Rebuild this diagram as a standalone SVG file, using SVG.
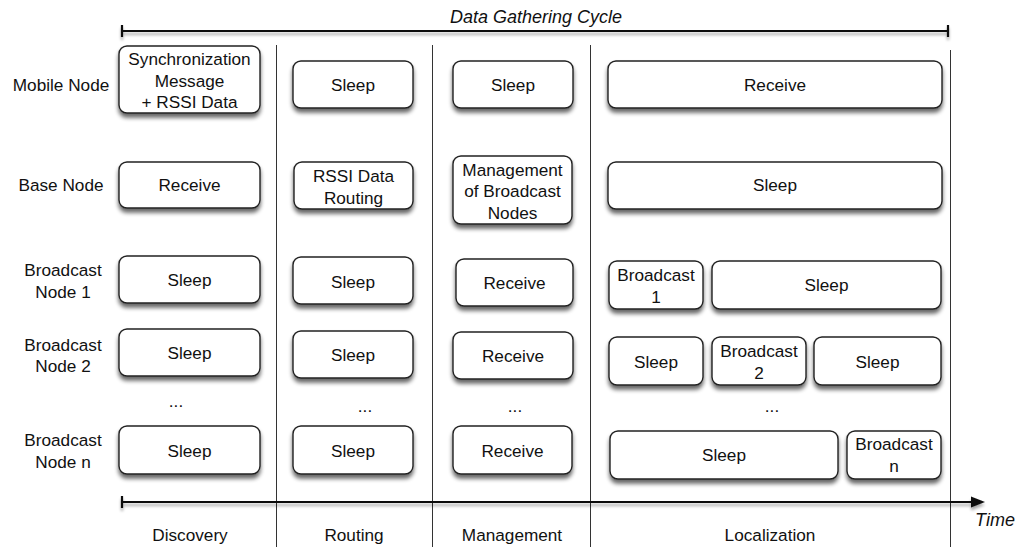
<svg xmlns="http://www.w3.org/2000/svg" width="1018" height="547" viewBox="0 0 1018 547">
  <defs>
    <filter id="shadow" x="-10%" y="-20%" width="120%" height="160%">
      <feGaussianBlur in="SourceAlpha" stdDeviation="2.2"/>
      <feOffset dx="0" dy="4" result="blur"/>
      <feComponentTransfer><feFuncA type="linear" slope="0.6"/></feComponentTransfer>
      <feMerge><feMergeNode/><feMergeNode in="SourceGraphic"/></feMerge>
    </filter>
    <filter id="lineShadow" x="-5%" y="-200%" width="110%" height="500%">
      <feGaussianBlur in="SourceAlpha" stdDeviation="1.5"/>
      <feOffset dx="0" dy="3"/>
      <feComponentTransfer><feFuncA type="linear" slope="0.35"/></feComponentTransfer>
      <feMerge><feMergeNode/><feMergeNode in="SourceGraphic"/></feMerge>
    </filter>
    <marker id="arrow" markerWidth="14" markerHeight="12" refX="2" refY="6" orient="auto" markerUnits="userSpaceOnUse">
      <path d="M0,0.5 L14,6 L0,11.5 Z" fill="#111"/>
    </marker>
  </defs>
  <style>
    .box { fill: #fff; stroke: #222; stroke-width: 1.4; filter: url(#shadow); }
    .t { font-family: "Liberation Sans", Arial, sans-serif; font-size: 17.2px; fill: #111; text-anchor: middle; }
    .it { font-style: italic; font-size: 18px; }
    .sep { stroke: #333; stroke-width: 1; }
    .axis { stroke: #111; stroke-width: 2.2; fill: none; }
  </style>
  <rect width="1018" height="547" fill="#fff"/>

  <!-- phase separators -->
  <g id="separators">
    <line class="sep" x1="276.5" y1="45" x2="276.5" y2="547"/>
    <line class="sep" x1="432.5" y1="45" x2="432.5" y2="547"/>
    <line class="sep" x1="590.5" y1="45" x2="590.5" y2="547"/>
    <line class="sep" x1="950.5" y1="50" x2="950.5" y2="547"/>
  </g>

  <!-- cycle bar and time axis -->
  <g id="connectors">
    <g filter="url(#lineShadow)">
      <line class="axis" x1="122" y1="31" x2="948" y2="31"/>
      <line class="axis" x1="122" y1="25" x2="122" y2="37"/>
      <line class="axis" x1="948" y1="25" x2="948" y2="37"/>
    </g>
    <g filter="url(#lineShadow)">
      <line class="axis" x1="122" y1="502" x2="973" y2="502" marker-end="url(#arrow)"/>
      <line class="axis" x1="122" y1="496" x2="122" y2="508"/>
    </g>
  </g>

  <text class="t it" x="536" y="23">Data Gathering Cycle</text>
  <text class="t it" x="995" y="526">Time</text>

  <!-- row labels -->
  <g id="labels">
    <text class="t" x="61" y="91">Mobile Node</text>
    <text class="t" x="61" y="191">Base Node</text>
    <text class="t" x="63" y="276">Broadcast</text>
    <text class="t" x="63" y="298">Node 1</text>
    <text class="t" x="63" y="351">Broadcast</text>
    <text class="t" x="63" y="372">Node 2</text>
    <text class="t" x="63" y="446">Broadcast</text>
    <text class="t" x="63" y="468">Node n</text>
  </g>

  <!-- phase labels -->
  <g id="phases">
    <text class="t" x="190" y="541">Discovery</text>
    <text class="t" x="354" y="541">Routing</text>
    <text class="t" x="512" y="541">Management</text>
    <text class="t" x="770" y="541">Localization</text>
  </g>

  <!-- ellipsis row -->
  <g id="ellipsis">
    <text class="t" x="176" y="407">...</text>
    <text class="t" x="365" y="412">...</text>
    <text class="t" x="515" y="412">...</text>
    <text class="t" x="772" y="412">...</text>
  </g>

  <!-- Mobile Node row -->
  <g id="mobile-discovery">
    <rect class="box" x="119" y="46" width="141" height="67" rx="8"/>
    <text class="t" x="189.5" y="65">Synchronization</text>
    <text class="t" x="189.5" y="87">Message</text>
    <text class="t" x="189.5" y="108">+ RSSI Data</text>
  </g>
  <g id="mobile-routing">
    <rect class="box" x="293" y="61" width="120" height="47" rx="8"/>
    <text class="t" x="353" y="91">Sleep</text>
  </g>
  <g id="mobile-management">
    <rect class="box" x="453" y="61" width="120" height="47" rx="8"/>
    <text class="t" x="513" y="91">Sleep</text>
  </g>
  <g id="mobile-localization">
    <rect class="box" x="608" y="61" width="334" height="47" rx="8"/>
    <text class="t" x="775" y="91">Receive</text>
  </g>

  <!-- Base Node row -->
  <g id="base-discovery">
    <rect class="box" x="119" y="162" width="141" height="46" rx="8"/>
    <text class="t" x="189.5" y="191">Receive</text>
  </g>
  <g id="base-routing">
    <rect class="box" x="294" y="162" width="119" height="47" rx="8"/>
    <text class="t" x="353.5" y="182">RSSI Data</text>
    <text class="t" x="353.5" y="204">Routing</text>
  </g>
  <g id="base-management">
    <rect class="box" x="453" y="156" width="119" height="68" rx="8"/>
    <text class="t" x="512.5" y="176">Management</text>
    <text class="t" x="512.5" y="197">of Broadcast</text>
    <text class="t" x="512.5" y="219">Nodes</text>
  </g>
  <g id="base-localization">
    <rect class="box" x="608" y="162" width="334" height="47" rx="8"/>
    <text class="t" x="775" y="191">Sleep</text>
  </g>

  <!-- Broadcast Node 1 row -->
  <g id="b1-discovery">
    <rect class="box" x="119" y="256" width="141" height="47" rx="8"/>
    <text class="t" x="189.5" y="286">Sleep</text>
  </g>
  <g id="b1-routing">
    <rect class="box" x="293" y="257" width="120" height="47" rx="8"/>
    <text class="t" x="353" y="288">Sleep</text>
  </g>
  <g id="b1-management">
    <rect class="box" x="456" y="259" width="117" height="47" rx="8"/>
    <text class="t" x="514.5" y="289">Receive</text>
  </g>
  <g id="b1-broadcast">
    <rect class="box" x="609" y="261" width="94" height="48" rx="8"/>
    <text class="t" x="656" y="281">Broadcast</text>
    <text class="t" x="656" y="303">1</text>
  </g>
  <g id="b1-sleep">
    <rect class="box" x="712" y="261" width="229" height="48" rx="8"/>
    <text class="t" x="826.5" y="291">Sleep</text>
  </g>

  <!-- Broadcast Node 2 row -->
  <g id="b2-discovery">
    <rect class="box" x="119" y="329" width="141" height="47" rx="8"/>
    <text class="t" x="189.5" y="359">Sleep</text>
  </g>
  <g id="b2-routing">
    <rect class="box" x="293" y="331" width="120" height="47" rx="8"/>
    <text class="t" x="353" y="361">Sleep</text>
  </g>
  <g id="b2-management">
    <rect class="box" x="453" y="332" width="120" height="47" rx="8"/>
    <text class="t" x="513" y="362">Receive</text>
  </g>
  <g id="b2-sleep-a">
    <rect class="box" x="609" y="337" width="94" height="48" rx="8"/>
    <text class="t" x="656" y="368">Sleep</text>
  </g>
  <g id="b2-broadcast">
    <rect class="box" x="712" y="337" width="94" height="48" rx="8"/>
    <text class="t" x="759" y="357">Broadcast</text>
    <text class="t" x="759" y="379">2</text>
  </g>
  <g id="b2-sleep-b">
    <rect class="box" x="814" y="337" width="127" height="48" rx="8"/>
    <text class="t" x="877.5" y="368">Sleep</text>
  </g>

  <!-- Broadcast Node n row -->
  <g id="bn-discovery">
    <rect class="box" x="119" y="426" width="141" height="48" rx="8"/>
    <text class="t" x="189.5" y="457">Sleep</text>
  </g>
  <g id="bn-routing">
    <rect class="box" x="293" y="426" width="120" height="48" rx="8"/>
    <text class="t" x="353" y="457">Sleep</text>
  </g>
  <g id="bn-management">
    <rect class="box" x="453" y="426" width="119" height="48" rx="8"/>
    <text class="t" x="512.5" y="457">Receive</text>
  </g>
  <g id="bn-sleep">
    <rect class="box" x="610" y="431" width="228" height="48" rx="8"/>
    <text class="t" x="724" y="461">Sleep</text>
  </g>
  <g id="bn-broadcast">
    <rect class="box" x="847" y="431" width="94" height="48" rx="8"/>
    <text class="t" x="894" y="450">Broadcast</text>
    <text class="t" x="894" y="472">n</text>
  </g>
</svg>
